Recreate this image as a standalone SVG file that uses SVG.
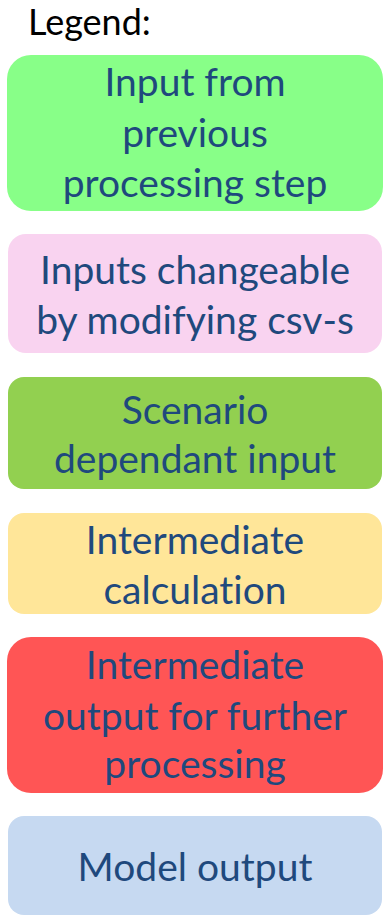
<svg xmlns="http://www.w3.org/2000/svg" width="385" height="916" viewBox="0 0 385 916">
<style>
.box{stroke:none}
.t{font-family:Lato,"Liberation Sans",sans-serif;font-size:39px;fill:#1F497D;text-anchor:middle;font-variant-ligatures:none}
.lg{font-family:Lato,"Liberation Sans",sans-serif;font-size:36px;fill:#000}
</style>
<rect width="385" height="916" fill="#fff"/>
<text class="lg" x="28" y="35">Legend:</text>
<g id="n1"><rect class="box" x="7" y="55" width="376" height="156" rx="24" fill="#88FF88"/>
<text class="t" x="195" y="96">Input from</text><text class="t" x="195" y="147">previous</text><text class="t" x="195" y="197">processing step</text></g>
<g id="n2"><rect class="box" x="8" y="234" width="374" height="119" rx="18" fill="#F9D3F0"/>
<text class="t" x="195" y="284">Inputs changeable</text><text class="t" x="195" y="334">by modifying csv-s</text></g>
<g id="n3"><rect class="box" x="8" y="377" width="374" height="112" rx="16" fill="#92D050"/>
<text class="t" x="195" y="424">Scenario</text><text class="t" x="195" y="473">dependant input</text></g>
<g id="n4"><rect class="box" x="8" y="513" width="374" height="101" rx="16" fill="#FFE699"/>
<text class="t" x="195" y="554">Intermediate</text><text class="t" x="195" y="604">calculation</text></g>
<g id="n5"><rect class="box" x="7" y="637" width="376" height="156" rx="24" fill="#FF5555"/>
<text class="t" x="195" y="679">Intermediate</text><text class="t" x="195" y="730">output for further</text><text class="t" x="195" y="778">processing</text></g>
<g id="n6"><rect class="box" x="8" y="816" width="374" height="99" rx="16" fill="#C6D9F1"/>
<text class="t" x="195" y="881">Model output</text></g>
<g id="connectors"/>
</svg>
